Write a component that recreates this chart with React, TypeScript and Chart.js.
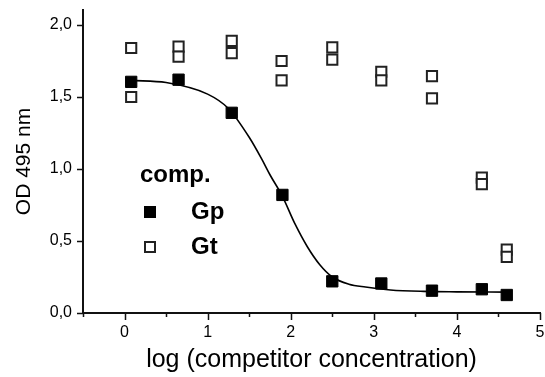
import React, { useEffect, useRef } from 'react';
import { Chart, registerables } from 'chart.js';
Chart.register(...registerables);

const gpX = [0.08, 0.65, 1.29, 1.9, 2.5, 3.09, 3.7, 4.3, 4.6];
const gpY = [1.605, 1.62, 1.39, 0.82, 0.22, 0.205, 0.155, 0.165, 0.125];
const gtX = [0.08, 0.08, 0.65, 0.65, 1.29, 1.29, 1.89, 1.89, 2.5, 2.5, 3.09, 3.09, 3.7, 3.7, 4.3, 4.3, 4.6, 4.6];
const gtY = [1.84, 1.5, 1.85, 1.78, 1.89, 1.805, 1.75, 1.615, 1.845, 1.76, 1.675, 1.615, 1.645, 1.49, 0.94, 0.895, 0.44, 0.39];
const fitX = [0.08, 0.5, 1.0, 1.25, 1.5, 1.65, 1.75, 1.9, 2.05, 2.2, 2.35, 2.5, 2.7, 2.9, 3.2, 3.6, 4.0, 4.6];
const fitY = [1.615, 1.6, 1.52, 1.42, 1.22, 1.07, 0.96, 0.81, 0.62, 0.46, 0.335, 0.25, 0.2, 0.18, 0.16, 0.15, 0.147, 0.145];
const xTickValues = [-0.5, 0, 0.5, 1, 1.5, 2, 2.5, 3, 3.5, 4, 4.5, 5];
const yTickValues = [0, 0.5, 1, 1.5, 2];
const legendTitle = 'comp.';
const seriesNames = ['Gp', 'Gt'];

const FONT = "'Liberation Sans', Arial, Helvetica, sans-serif";

const zeroPad = (s: any) => {
  s.paddingTop = 0;
  s.paddingBottom = 0;
  s.paddingLeft = 0;
  s.paddingRight = 0;
};

const tickMarks = {
  id: 'tickMarks',
  afterDraw(chart: any) {
    const ctx = chart.ctx;
    const xs = chart.scales.x;
    const ys = chart.scales.y;
    const area = chart.chartArea;
    ctx.save();
    ctx.strokeStyle = '#111';
    ctx.lineWidth = 1.5;
    ctx.beginPath();
    xTickValues.forEach((v) => {
      const px = Math.round(xs.getPixelForValue(v)) + 0.5;
      const len = Number.isInteger(v) ? 7 : 4;
      ctx.moveTo(px, area.bottom);
      ctx.lineTo(px, area.bottom + len);
    });
    yTickValues.forEach((v) => {
      const py = Math.round(ys.getPixelForValue(v)) + 0.5;
      ctx.moveTo(area.left, py);
      ctx.lineTo(area.left - 6, py);
    });
    ctx.stroke();
    ctx.restore();
  },
};

const legendPlugin = {
  id: 'customLegend',
  afterDraw(chart: any) {
    const ctx = chart.ctx;
    const area = chart.chartArea;
    const lx = area.left + 57;
    ctx.save();
    ctx.fillStyle = '#000';
    ctx.textBaseline = 'middle';
    ctx.textAlign = 'left';
    ctx.font = `bold 24px ${FONT}`;
    ctx.fillText(legendTitle, lx, area.top + 165);
    const rows = [area.top + 202, area.top + 237];
    const mx = lx + 10;
    ctx.fillStyle = '#000';
    ctx.fillRect(mx - 6, rows[0] - 6, 12, 12);
    ctx.fillStyle = '#fff';
    ctx.fillRect(mx - 6, rows[1] - 6, 12, 12);
    ctx.strokeStyle = '#222';
    ctx.lineWidth = 2;
    ctx.strokeRect(mx - 5, rows[1] - 5, 10, 10);
    ctx.fillStyle = '#000';
    ctx.fillText(seriesNames[0], lx + 51, rows[0]);
    ctx.fillText(seriesNames[1], lx + 51, rows[1]);
    ctx.restore();
  },
};

export default function App() {
  const ref = useRef<HTMLCanvasElement>(null);
  useEffect(() => {
    document.body.style.margin = '0';
    const chart = new Chart(ref.current!, {
      type: 'scatter',
      data: {
        datasets: [
          {
            label: seriesNames[0],
            data: gpX.map((x, i) => ({ x, y: gpY[i] })),
            pointStyle: 'rect',
            pointRadius: 8,
            backgroundColor: '#000',
            borderColor: '#000',
            borderWidth: 1,
            showLine: false,
          },
          {
            label: seriesNames[1],
            data: gtX.map((x, i) => ({ x, y: gtY[i] })),
            pointStyle: 'rect',
            pointRadius: 7.2,
            backgroundColor: '#fff',
            borderColor: '#222',
            borderWidth: 2,
            showLine: false,
          },
          {
            label: 'fit',
            data: fitX.map((x, i) => ({ x, y: fitY[i] })),
            showLine: true,
            pointRadius: 0,
            borderColor: '#000',
            borderWidth: 1.6,
            cubicInterpolationMode: 'monotone',
          } as any,
        ],
      },
      options: {
        animation: false,
        responsive: false,
        maintainAspectRatio: false,
        layout: { padding: { top: 10, right: 5, left: 0, bottom: 0 }, autoPadding: false } as any,
        plugins: { legend: { display: false }, tooltip: { enabled: false } },
        scales: {
          x: {
            type: 'linear',
            min: -0.5,
            max: 5,
            afterBuildTicks: (s: any) => { s.ticks = xTickValues.map((value) => ({ value })); },
            afterFit: (s: any) => { s.height = 64; zeroPad(s); },
            grid: { display: true, drawOnChartArea: false, drawTicks: false },
            border: { display: true, color: '#111', width: 2 },
            ticks: {
              padding: 10,
              color: '#000',
              font: { family: FONT, size: 16 },
              maxRotation: 0,
              autoSkip: false,
              callback: (v: any) => (Number.isInteger(Number(v)) ? String(v) : ''),
            },
            title: {
              display: true,
              text: 'log (competitor concentration)',
              color: '#000',
              font: { family: FONT, size: 25 },
              padding: { top: 0, bottom: 2 },
            },
          },
          y: {
            type: 'linear',
            min: 0,
            max: 2.104,
            afterBuildTicks: (s: any) => { s.ticks = yTickValues.map((value) => ({ value })); },
            afterFit: (s: any) => { s.width = 83; zeroPad(s); },
            grid: { display: true, drawOnChartArea: false, drawTicks: false },
            border: { display: true, color: '#111', width: 2 },
            ticks: {
              padding: 11,
              color: '#000',
              font: { family: FONT, size: 16 },
              autoSkip: false,
              callback: (v: any) => Number(v).toFixed(1).replace('.', ','),
            },
            title: {
              display: true,
              text: 'OD 495 nm',
              color: '#000',
              font: { family: FONT, size: 21 },
              padding: { top: 12, bottom: 0 },
            },
          },
        },
      },
      plugins: [tickMarks, legendPlugin],
    });
    return () => chart.destroy();
  }, []);
  return (
    <div style={{ width: 545, height: 377 }}>
      <canvas ref={ref} width={545} height={377} style={{ width: 545, height: 377, display: 'block' }} />
    </div>
  );
}
